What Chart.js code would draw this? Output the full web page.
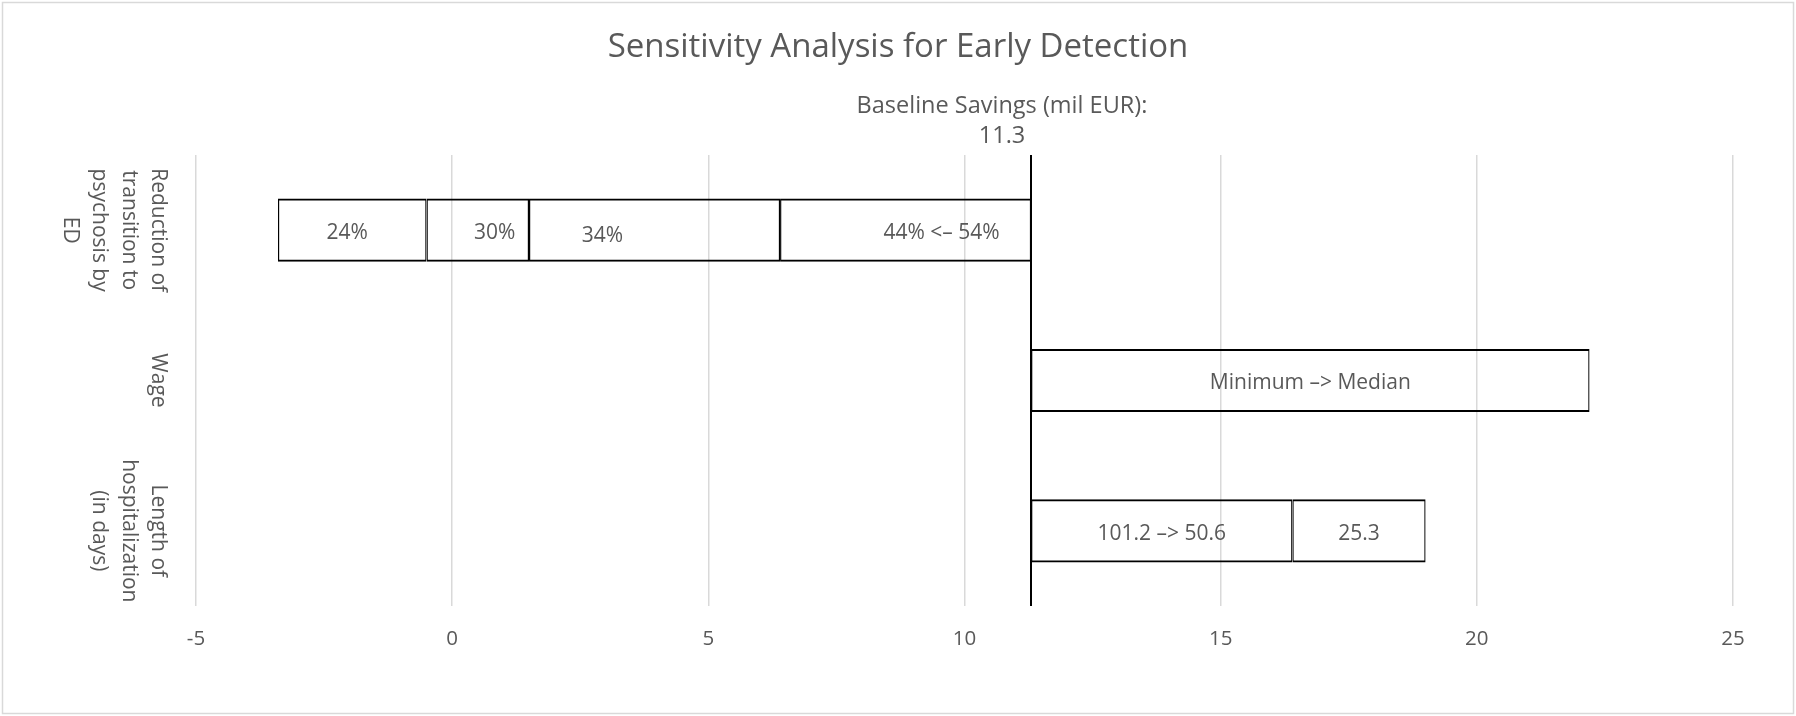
<!DOCTYPE html>
<html>
<head>
<meta charset="utf-8">
<script src="https://cdn.jsdelivr.net/npm/chart.js@4.4.0/dist/chart.umd.min.js"></script>
<style>
  body { margin: 0; background: #fff; }
  #wrap { width: 1796px; height: 716px; position: relative; }
</style>
</head>
<body>
<div id="wrap"><canvas id="myChart"></canvas></div>
<script>
// data
const categories = [
    ["Reduction of", "transition to", "psychosis by", "ED"],
    ["Wage"],
    ["Length of", "hospitalization", "(in days)"]
];
const baselineSavings = 11.3;
const xTicks = [-5, 0, 5, 10, 15, 20, 25];

const segment1 = [[6.4, 11.3], [11.3, 22.2], [11.3, 16.4]];
const segment1Labels = ["44% <\u2013 54%", "Minimum \u2013> Median", "101.2 \u2013> 50.6"];
const segment2 = [[1.5, 6.4], null, [16.4, 19.0]];
const segment2Labels = ["34%", "", "25.3"];
const segment3 = [[-0.5, 1.5], null, null];
const segment3Labels = ["30%", "", ""];
const segment4 = [[-3.4, -0.5], null, null];
const segment4Labels = ["24%", "", ""];

const textColor = '#595959';
const fontFamily = '"Open Sans", sans-serif';

// small nudges of the labels in the first row, in px (like the excel labels)
const labelNudge = { "0,0": [36, 0], "1,0": [-52, 3], "2,0": [17, 0], "3,0": [-5, 0] };

let segLabels = [segment1Labels, segment2Labels, segment3Labels, segment4Labels];

const extras = {
    id: 'extras',
    beforeDraw(chart) {
        let c = chart.ctx;
        c.save();
        c.fillStyle = '#fff';
        c.fillRect(0, 0, chart.width, chart.height);
        c.strokeStyle = '#d9d9d9';
        c.lineWidth = 1.5;
        c.strokeRect(2.5, 2.5, chart.width - 5, chart.height - 5);
        c.restore();
    },
    afterDatasetsDraw(chart) {
        let c = chart.ctx;
        let x = chart.scales.x, y = chart.scales.y;
        let area = chart.chartArea;
        c.save();
        // bar labels
        c.fillStyle = textColor;
        c.font = '21px ' + fontFamily;
        c.textAlign = 'center';
        c.textBaseline = 'middle';
        chart.data.datasets.forEach((ds, di) => {
            chart.getDatasetMeta(di).data.forEach((el, i) => {
                let txt = segLabels[di][i];
                if (!txt || ds.data[i] == null) return;
                let nudge = labelNudge[di + ',' + i] || [0, 0];
                c.fillText(txt, (el.x + el.base) / 2 + nudge[0], el.y + 3 + nudge[1]);
            });
        });
        // baseline line
        let bx = Math.round(x.getPixelForValue(baselineSavings));
        c.strokeStyle = '#000';
        c.lineWidth = 2;
        c.beginPath();
        c.moveTo(bx, area.top);
        c.lineTo(bx, area.bottom);
        c.stroke();
        // baseline caption
        c.font = '23.5px ' + fontFamily;
        c.fillText('Baseline Savings (mil EUR):', bx - 29, 106);
        c.fillText(String(baselineSavings), bx - 29, 136);
        // title
        c.font = '33px ' + fontFamily;
        c.fillText('Sensitivity Analysis for Early Detection', chart.width / 2, 48);
        // category labels, rotated
        c.font = '21px ' + fontFamily;
        categories.forEach((lines, i) => {
            let cy = y.getPixelForValue(i);
            c.save();
            c.translate(158, cy);
            c.rotate(Math.PI / 2);
            lines.forEach((ln, k) => {
                c.fillText(ln, 0, k * 29.5);
            });
            c.restore();
        });
        c.restore();
    }
};

function seg(data, name) {
    return {
        label: name,
        data: data,
        backgroundColor: 'rgba(0,0,0,0)',
        borderColor: '#000',
        borderWidth: { left: 1.2, right: 1.2, top: 2, bottom: 2 },
        borderSkipped: false,
        grouped: false,
        barPercentage: 0.42,
        categoryPercentage: 1
    };
}

let ctx = document.getElementById("myChart").getContext('2d');
let myChart = new Chart(ctx, {
    type: 'bar',
    data: {
        labels: categories,
        datasets: [
            seg(segment1, 'seg1'),
            seg(segment2, 'seg2'),
            seg(segment3, 'seg3'),
            seg(segment4, 'seg4')
        ]
    },
    options: {
        indexAxis: 'y',
        responsive: true,
        maintainAspectRatio: false,
        animation: false,
        layout: { padding: { top: 155, right: 63, left: 0, bottom: 0 } },
        plugins: {
            legend: { display: false },
            tooltip: { enabled: false }
        },
        scales: {
            x: {
                min: xTicks[0],
                max: xTicks[xTicks.length - 1],
                afterBuildTicks: s => { s.ticks = xTicks.map(v => ({ value: v })); },
                afterFit: s => { s.height = 110; },
                grid: { color: '#d9d9d9', lineWidth: 1.5, drawTicks: false },
                border: { display: false },
                ticks: {
                    padding: 21,
                    color: textColor,
                    font: { family: fontFamily, size: 20.5 },
                    callback: v => String(v)
                }
            },
            y: {
                afterFit: s => { s.width = 196; },
                grid: { display: false },
                border: { display: false },
                ticks: { display: false }
            }
        }
    },
    plugins: [extras]
});
</script>
</body>
</html>
